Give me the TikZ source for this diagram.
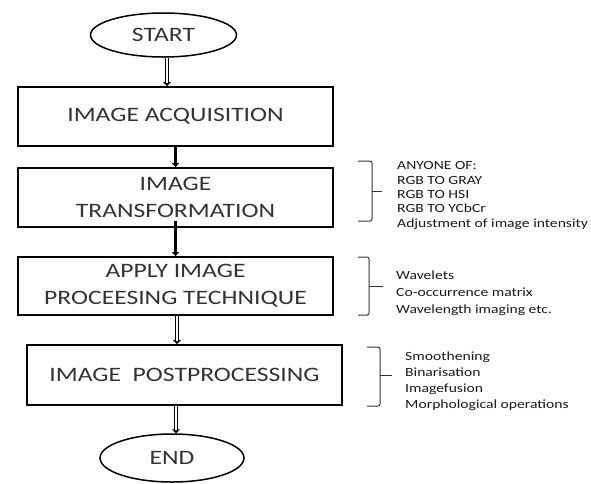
\documentclass[tikz,border=0pt]{standalone}
\usepackage{fontspec}
\setmainfont{Carlito}
\newfontfamily\boxfont[FakeStretch=1.25]{Carlito}
\usetikzlibrary{shapes.geometric,arrows.meta}
\begin{document}
\begin{tikzpicture}[x=1pt,y=-1pt,
  term/.style={ellipse,draw,line width=1.5pt,minimum width=146pt,minimum height=44pt,inner sep=0pt,
    font=\boxfont\fontsize{20.5}{27}\selectfont,text=black!80},
  stepbox/.style={rectangle,draw,line width=1.8pt,minimum width=315pt,inner sep=0pt,align=center,
    font=\boxfont\fontsize{20.5}{27}\selectfont,text=black!80},
  note/.style={anchor=west,align=left,inner sep=0pt,text=black!90},
  dbl/.style={draw=black,line width=4.6pt,-{Triangle[length=4pt,width=8pt]},
    postaction={draw=white,line width=2.6pt,-,shorten >=3pt}},
  thick arrow/.style={line width=3pt,-{Triangle[length=4pt,width=7pt]}},
  brace/.style={draw=black!80,line width=1pt,rounded corners=2pt}
]
\useasboundingbox (0,0) rectangle (591,483);

\node[term] (startn) at (163.5,35) {START};
\node[stepbox,minimum height=59pt] (acq) at (175.5,116.5) {IMAGE ACQUISITION};
\node[stepbox,minimum height=59pt] (trans) at (175.5,197.5) {IMAGE\\TRANSFORMATION};
\node[stepbox,minimum height=58pt] (apply) at (175.5,286) {APPLY IMAGE\\PROCEESING TECHNIQUE};
\node[stepbox,minimum height=60pt] (post) at (184.5,375) {IMAGE\ \ POSTPROCESSING};
\node[term,minimum width=144pt,minimum height=48pt] (stopn) at (172,458) {END};

\draw[dbl] ([xshift=3.5pt]startn.south) -- ([xshift=-8.5pt]acq.north);
\draw[thick arrow] (acq.south) -- (trans.north);
\draw[thick arrow] ([yshift=7pt]trans.south) -- (apply.north);
\draw[dbl] ([xshift=1.5pt]apply.south) -- ([xshift=-7.5pt]post.north);
\draw[dbl] ([xshift=-8.5pt]post.south) -- ([xshift=4pt]stopn.north);

% notes
\node[note,font=\boxfont\fontsize{12.5}{14.3}\selectfont] (n1) at (397,195.5)
  {ANYONE OF:\\RGB TO GRAY\\RGB TO HSI\\RGB TO YCbCr\\Adjustment of image intensity};
\node[note,font=\boxfont\fontsize{12.5}{17}\selectfont] (n2) at (396,293)
  {Wavelets\\Co-occurrence matrix\\Wavelength imaging etc.};
\node[note,font=\boxfont\fontsize{12.5}{16}\selectfont] (n3) at (405,381)
  {Smoothening\\Binarisation\\Imagefusion\\Morphological operations};

% braces
\draw[brace] (358,161) -- (372,161) -- (372,221) -- (358,221);
\draw[brace] (372,191) -- (382,191);
\draw[brace] (358,257) -- (369,257) -- (369,315) -- (358,315);
\draw[brace] (369,286) -- (383,286);
\draw[brace] (367,347) -- (380,347) -- (380,406) -- (367,406);
\draw[brace] (380,375) -- (392,375);
\end{tikzpicture}
\end{document}
